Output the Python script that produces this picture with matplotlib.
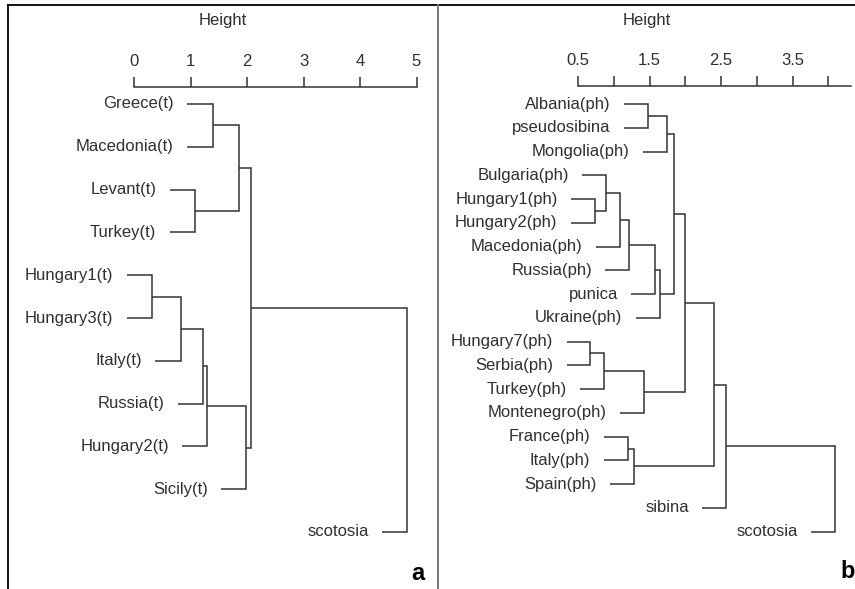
import matplotlib
matplotlib.use("Agg")
import matplotlib.pyplot as plt
from matplotlib.lines import Line2D
import numpy as np

plt.rcParams['font.family'] = ['Liberation Sans', 'DejaVu Sans']

# ---------------- data: panel a ----------------
leaves_a = ["Greece(t)", "Macedonia(t)", "Levant(t)", "Turkey(t)", "Hungary1(t)",
            "Hungary3(t)", "Italy(t)", "Russia(t)", "Hungary2(t)", "Sicily(t)", "scotosia"]
# R-style merge matrix: negative = leaf (1-based), positive = earlier merge (1-based)
merge_a = [(-1, -2), (-3, -4), (1, 2), (-5, -6), (4, -7), (5, -8), (6, -9), (7, -10), (3, 8), (9, -11)]
height_a = [1.39, 1.08, 1.85, 0.32, 0.83, 1.23, 1.30, 1.99, 2.07, 4.84]
ticks_a = [0, 1, 2, 3, 4, 5]
ticklabels_a = ["0", "1", "2", "3", "4", "5"]

# ---------------- data: panel b ----------------
leaves_b = ["Albania(ph)", "pseudosibina", "Mongolia(ph)", "Bulgaria(ph)", "Hungary1(ph)",
            "Hungary2(ph)", "Macedonia(ph)", "Russia(ph)", "punica", "Ukraine(ph)",
            "Hungary7(ph)", "Serbia(ph)", "Turkey(ph)", "Montenegro(ph)", "France(ph)",
            "Italy(ph)", "Spain(ph)", "sibina", "scotosia"]
merge_b = [(-1, -2), (1, -3), (-5, -6), (-4, 3), (4, -7), (5, -8), (6, -9), (7, -10), (2, 8),
           (-11, -12), (10, -13), (11, -14), (9, 12), (-15, -16), (14, -17), (13, 15),
           (16, -18), (17, -19)]
height_b = [1.47, 1.74, 0.73, 0.89, 1.08, 1.21, 1.58, 1.64, 1.84, 0.67, 0.86, 1.42, 1.99,
            1.19, 1.28, 2.40, 2.57, 4.09]
ticks_b = [0.5, 1.0, 1.5, 2.0, 2.5, 3.0, 3.5, 4.0]
ticklabels_b = ["0.5", "", "1.5", "", "2.5", "", "3.5", ""]

W, H = 855, 589
fig = plt.figure(figsize=(W / 100, H / 100), dpi=100)

LINE_C = '#333333'
TEXT_C = '#2f2f2f'
FS = 12


def draw_dendro(ax, leaves, merge, heights, hang):
    ypos = {}

    def child_xy(c, h):
        if c < 0:
            return h - hang, -c - 1, True
        return heights[c - 1], ypos[c], False
    for k, ((c1, c2), h) in enumerate(zip(merge, heights), start=1):
        x1, y1, l1 = child_xy(c1, h)
        x2, y2, l2 = child_xy(c2, h)
        ax.plot([x1, h, h, x2], [y1, y1, y2, y2], color=LINE_C, lw=1.1,
                solid_joinstyle='miter', solid_capstyle='butt')
        for (xx, yy, isleaf, c) in [(x1, y1, l1, c1), (x2, y2, l2, c2)]:
            if isleaf:
                ax.annotate(leaves[-c - 1], xy=(xx, yy), xytext=(-9.5, 0),
                            textcoords='offset points', ha='right', va='center',
                            fontsize=FS, color=TEXT_C)
        ypos[k] = (y1 + y2) / 2.0


def setup_axis(ax, ticks, labels, bounds, spine_y):
    for s in ['left', 'right', 'bottom']:
        ax.spines[s].set_visible(False)
    ax.spines['top'].set_position(('data', spine_y))
    ax.spines['top'].set_bounds(*bounds)
    ax.spines['top'].set_color(LINE_C)
    ax.spines['top'].set_linewidth(1.1)
    ax.xaxis.tick_top()
    ax.set_xticks(ticks)
    ax.set_xticklabels(labels)
    ax.tick_params(axis='x', which='major', direction='out', length=7.2, width=1.1,
                   color=LINE_C, labelsize=FS, labelcolor=TEXT_C, pad=5.5)
    ax.set_yticks([])
    ax.patch.set_visible(False)
    ax.text(0.5, 0.972, "Height", transform=ax.transAxes, ha='center', va='center',
            fontsize=FS, color=TEXT_C)


# ---- panel a axes: pixels 8..437 horizontally, 4.5..589 vertically
ax_a = fig.add_axes([8 / W, 0, (437 - 8) / W, 1 - 4.5 / H])
px_a, x0_a, y0_a, dy_a = 56.5, 134.0, 104.0, 42.8
ax_a.set_xlim((8 - x0_a) / px_a, (437 - x0_a) / px_a)
ax_a.set_ylim((589 - y0_a) / dy_a, (4.5 - y0_a) / dy_a)
draw_dendro(ax_a, leaves_a, merge_a, height_a, hang=0.45)
setup_axis(ax_a, ticks_a, ticklabels_a, (0, 5), (86.7 - y0_a) / dy_a)

# ---- panel b axes: pixels 438..855
ax_b = fig.add_axes([438 / W, 0, (855 - 438) / W, 1 - 4.5 / H])
px_b, x0_b, y0_b, dy_b = 71.4, 578.3, 104.0, 23.76
tob = lambda p: 0.5 + (p - x0_b) / px_b
ax_b.set_xlim(tob(438), tob(855))
ax_b.set_ylim((589 - y0_b) / dy_b, (4.5 - y0_b) / dy_b)
draw_dendro(ax_b, leaves_b, merge_b, height_b, hang=0.335)
setup_axis(ax_b, ticks_b, ticklabels_b, (0.5, tob(851)), (86.0 - y0_b) / dy_b)

# ---- frame / divider
fig.add_artist(Line2D([7.5 / W, 7.5 / W], [0, 1 - 4.5 / H], color='black', lw=1.3))
fig.add_artist(Line2D([7.5 / W, 1], [1 - 4.5 / H, 1 - 4.5 / H], color='black', lw=1.3))
fig.add_artist(Line2D([437.5 / W, 437.5 / W], [0, 1 - 4.5 / H], color='#777777', lw=1.4))

fig.text(418 / W, 1 - 573 / H, "a", fontsize=17, fontweight='bold', ha='center', va='center')
fig.text(848 / W, 1 - 571 / H, "b", fontsize=17, fontweight='bold', ha='center', va='center')

fig.savefig("out.png", dpi=100)
